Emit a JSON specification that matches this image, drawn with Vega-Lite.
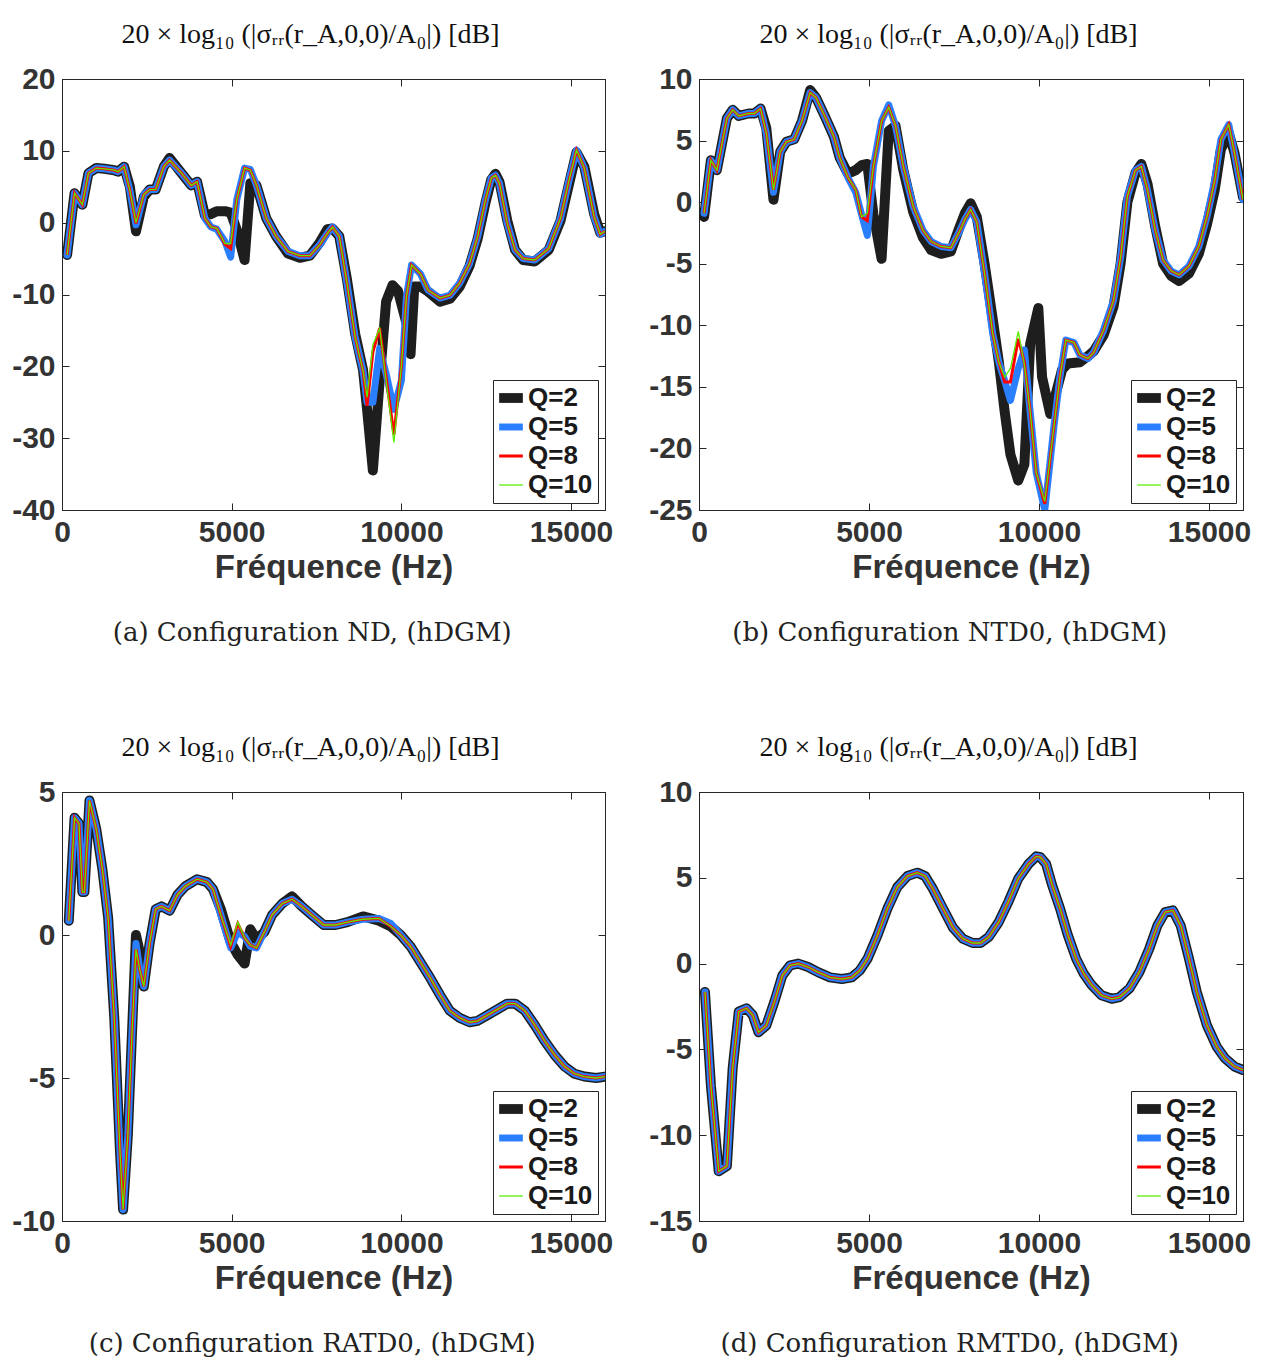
{
"$schema": "https://vega.github.io/schema/vega-lite/v6.json",
"padding": {"left": 11, "top": 20, "right": 5, "bottom": 5},
"datasets": {"d": [
{"p":"a","f":150,"Q=2":-4.5,"Q=5":-4.5,"Q=8":-4.5,"Q=10":-4.5},
{"p":"a","f":370,"Q=2":4.1,"Q=5":4.1,"Q=8":4.1,"Q=10":4.1},
{"p":"a","f":600,"Q=2":2.5,"Q=5":2.5,"Q=8":2.5,"Q=10":2.5},
{"p":"a","f":780,"Q=2":6.9,"Q=5":6.9,"Q=8":6.9,"Q=10":6.9},
{"p":"a","f":1010,"Q=2":7.6,"Q=5":7.6,"Q=8":7.6,"Q=10":7.6},
{"p":"a","f":1250,"Q=2":7.5,"Q=5":7.5,"Q=8":7.5,"Q=10":7.5},
{"p":"a","f":1540,"Q=2":7.3,"Q=5":7.3,"Q=8":7.3,"Q=10":7.3},
{"p":"a","f":1650,"Q=2":7.1,"Q=5":7.1,"Q=8":7.1,"Q=10":7.1},
{"p":"a","f":1830,"Q=2":7.8,"Q=5":7.8,"Q=8":7.8,"Q=10":7.8},
{"p":"a","f":2000,"Q=2":5.0,"Q=5":4.5,"Q=8":4.5,"Q=10":4.5},
{"p":"a","f":2180,"Q=2":-1.2,"Q=5":-0.3,"Q=8":-0.1,"Q=10":0.0},
{"p":"a","f":2410,"Q=2":3.6,"Q=5":3.9,"Q=8":3.9,"Q=10":3.9},
{"p":"a","f":2580,"Q=2":4.6,"Q=5":4.6,"Q=8":4.6,"Q=10":4.6},
{"p":"a","f":2760,"Q=2":4.6,"Q=5":4.6,"Q=8":4.6,"Q=10":4.6},
{"p":"a","f":3000,"Q=2":7.8,"Q=5":7.8,"Q=8":7.8,"Q=10":7.8},
{"p":"a","f":3170,"Q=2":9.0,"Q=5":8.7,"Q=8":8.7,"Q=10":8.7},
{"p":"a","f":3520,"Q=2":6.9,"Q=5":6.9,"Q=8":6.9,"Q=10":6.9},
{"p":"a","f":3810,"Q=2":5.2,"Q=5":5.2,"Q=8":5.2,"Q=10":5.2},
{"p":"a","f":3980,"Q=2":5.7,"Q=5":5.7,"Q=8":5.7,"Q=10":5.7},
{"p":"a","f":4210,"Q=2":1.0,"Q=5":0.6,"Q=8":0.6,"Q=10":0.6},
{"p":"a","f":4390,"Q=2":1.2,"Q=5":-0.6,"Q=8":-0.6,"Q=10":-0.6},
{"p":"a","f":4560,"Q=2":1.6,"Q=5":-0.9,"Q=8":-0.8,"Q=10":-0.8},
{"p":"a","f":4800,"Q=2":1.6,"Q=5":-2.6,"Q=8":-3.0,"Q=10":-2.9},
{"p":"a","f":4970,"Q=2":1.4,"Q=5":-4.8,"Q=8":-3.6,"Q=10":-2.9},
{"p":"a","f":5150,"Q=2":-1.0,"Q=5":3.2,"Q=8":3.2,"Q=10":3.2},
{"p":"a","f":5380,"Q=2":-5.2,"Q=5":7.6,"Q=8":7.6,"Q=10":7.6},
{"p":"a","f":5550,"Q=2":5.5,"Q=5":7.4,"Q=8":7.3,"Q=10":7.3},
{"p":"a","f":5730,"Q=2":5.2,"Q=5":5.2,"Q=8":5.2,"Q=10":5.2},
{"p":"a","f":6020,"Q=2":0.6,"Q=5":0.6,"Q=8":0.6,"Q=10":0.6},
{"p":"a","f":6310,"Q=2":-1.9,"Q=5":-1.9,"Q=8":-1.9,"Q=10":-1.9},
{"p":"a","f":6660,"Q=2":-4.3,"Q=5":-4.0,"Q=8":-4.0,"Q=10":-4.0},
{"p":"a","f":7010,"Q=2":-4.9,"Q=5":-4.6,"Q=8":-4.6,"Q=10":-4.6},
{"p":"a","f":7300,"Q=2":-4.6,"Q=5":-4.6,"Q=8":-4.6,"Q=10":-4.6},
{"p":"a","f":7590,"Q=2":-2.8,"Q=5":-3.1,"Q=8":-3.1,"Q=10":-3.1},
{"p":"a","f":7820,"Q=2":-0.9,"Q=5":-1.5,"Q=8":-1.5,"Q=10":-1.5},
{"p":"a","f":7970,"Q=2":-0.8,"Q=5":-0.6,"Q=8":-0.6,"Q=10":-0.6},
{"p":"a","f":8170,"Q=2":-1.9,"Q=5":-1.9,"Q=8":-1.9,"Q=10":-1.9},
{"p":"a","f":8400,"Q=2":-8.0,"Q=5":-8.5,"Q=8":-8.5,"Q=10":-8.5},
{"p":"a","f":8640,"Q=2":-15.5,"Q=5":-16,"Q=8":-16,"Q=10":-16},
{"p":"a","f":8870,"Q=2":-20.5,"Q=5":-20.6,"Q=8":-20.6,"Q=10":-20.6},
{"p":"a","f":8990,"Q=2":-26,"Q=5":-25,"Q=8":-25.5,"Q=10":-24.3},
{"p":"a","f":9160,"Q=2":-34.5,"Q=5":-25,"Q=8":-18,"Q=10":-17},
{"p":"a","f":9360,"Q=2":-22,"Q=5":-17.5,"Q=8":-14.7,"Q=10":-14.7},
{"p":"a","f":9550,"Q=2":-11,"Q=5":-21,"Q=8":-21.5,"Q=10":-22},
{"p":"a","f":9740,"Q=2":-8.7},
{"p":"a","f":9780,"Q=5":-26,"Q=8":-29.5,"Q=10":-30.6},
{"p":"a","f":9900,"Q=2":-9.5},
{"p":"a","f":10000,"Q=5":-22,"Q=8":-20,"Q=10":-20},
{"p":"a","f":10150,"Q=2":-14,"Q=5":-10.3,"Q=8":-10.3,"Q=10":-10.3},
{"p":"a","f":10270,"Q=2":-18.3},
{"p":"a","f":10300,"Q=5":-5.9,"Q=8":-5.9,"Q=10":-5.9},
{"p":"a","f":10380,"Q=2":-8.9},
{"p":"a","f":10560,"Q=2":-8.9,"Q=5":-7.1,"Q=8":-7.1,"Q=10":-7.1},
{"p":"a","f":10790,"Q=2":-9.6,"Q=5":-9.4,"Q=8":-9.4,"Q=10":-9.4},
{"p":"a","f":11140,"Q=2":-11.0,"Q=5":-10.5,"Q=8":-10.5,"Q=10":-10.5},
{"p":"a","f":11430,"Q=2":-10.6,"Q=5":-10.1,"Q=8":-10.1,"Q=10":-10.1},
{"p":"a","f":11720,"Q=2":-8.9,"Q=5":-8.4,"Q=8":-8.4,"Q=10":-8.4},
{"p":"a","f":12010,"Q=2":-6.0,"Q=5":-5.7,"Q=8":-5.7,"Q=10":-5.7},
{"p":"a","f":12250,"Q=2":-2.2,"Q=5":-1.9,"Q=8":-1.9,"Q=10":-1.9},
{"p":"a","f":12480,"Q=2":2.8,"Q=5":3.2,"Q=8":3.2,"Q=10":3.2},
{"p":"a","f":12650,"Q=2":6.0,"Q=5":6.2,"Q=8":6.2,"Q=10":6.2},
{"p":"a","f":12770,"Q=2":6.8,"Q=5":6.6,"Q=8":6.6,"Q=10":6.6},
{"p":"a","f":12890,"Q=2":5.7,"Q=5":5.5,"Q=8":5.5,"Q=10":5.5},
{"p":"a","f":13120,"Q=2":0.3,"Q=5":-0.1,"Q=8":-0.1,"Q=10":-0.1},
{"p":"a","f":13350,"Q=2":-3.8,"Q=5":-3.8,"Q=8":-3.8,"Q=10":-3.8},
{"p":"a","f":13590,"Q=2":-5.2,"Q=5":-5.0,"Q=8":-5.0,"Q=10":-5.0},
{"p":"a","f":13930,"Q=2":-5.4,"Q=5":-5.2,"Q=8":-5.2,"Q=10":-5.2},
{"p":"a","f":14340,"Q=2":-3.8,"Q=5":-3.6,"Q=8":-3.6,"Q=10":-3.6},
{"p":"a","f":14690,"Q=2":0.3,"Q=5":0.6,"Q=8":0.6,"Q=10":0.6},
{"p":"a","f":14920,"Q=2":5.0,"Q=5":5.5,"Q=8":5.5,"Q=10":5.5},
{"p":"a","f":15160,"Q=2":9.8,"Q=5":10.1,"Q=8":10.1,"Q=10":10.1},
{"p":"a","f":15390,"Q=2":7.8,"Q=5":7.6,"Q=8":7.6,"Q=10":7.6},
{"p":"a","f":15680,"Q=2":1.2,"Q=5":0.8,"Q=8":0.8,"Q=10":0.8},
{"p":"a","f":15860,"Q=2":-1.4,"Q=5":-1.6,"Q=8":-1.6,"Q=10":-1.6},
{"p":"a","f":16000,"Q=2":-1.2,"Q=5":-1.2,"Q=8":-1.2,"Q=10":-1.2},

{"p":"b","f":150,"Q=2":-1.2,"Q=5":-0.9,"Q=8":-0.9,"Q=10":-0.9},
{"p":"b","f":350,"Q=2":3.4,"Q=5":3.4,"Q=8":3.4,"Q=10":3.4},
{"p":"b","f":525,"Q=2":2.6,"Q=5":2.6,"Q=8":2.6,"Q=10":2.6},
{"p":"b","f":820,"Q=2":6.8,"Q=5":6.8,"Q=8":6.8,"Q=10":6.8},
{"p":"b","f":990,"Q=2":7.5,"Q=5":7.5,"Q=8":7.5,"Q=10":7.5},
{"p":"b","f":1170,"Q=2":7.0,"Q=5":7.0,"Q=8":7.0,"Q=10":7.0},
{"p":"b","f":1460,"Q=2":7.2,"Q=5":7.2,"Q=8":7.2,"Q=10":7.2},
{"p":"b","f":1630,"Q=2":7.2,"Q=5":7.2,"Q=8":7.2,"Q=10":7.2},
{"p":"b","f":1810,"Q=2":7.6,"Q=5":7.6,"Q=8":7.6,"Q=10":7.6},
{"p":"b","f":1980,"Q=2":6.0,"Q=5":5.6,"Q=8":5.6,"Q=10":5.6},
{"p":"b","f":2190,"Q=2":0.2,"Q=5":0.8,"Q=8":1.0,"Q=10":1.0},
{"p":"b","f":2390,"Q=2":4.1,"Q=5":4.1,"Q=8":4.1,"Q=10":4.1},
{"p":"b","f":2570,"Q=2":4.9,"Q=5":4.9,"Q=8":4.9,"Q=10":4.9},
{"p":"b","f":2800,"Q=2":5.1,"Q=5":5.1,"Q=8":5.1,"Q=10":5.1},
{"p":"b","f":3030,"Q=2":6.6,"Q=5":6.6,"Q=8":6.6,"Q=10":6.6},
{"p":"b","f":3270,"Q=2":9.1,"Q=5":8.9,"Q=8":8.9,"Q=10":8.9},
{"p":"b","f":3440,"Q=2":8.5,"Q=5":8.5,"Q=8":8.5,"Q=10":8.5},
{"p":"b","f":3730,"Q=2":6.8,"Q=5":6.8,"Q=8":6.8,"Q=10":6.8},
{"p":"b","f":3970,"Q=2":5.3,"Q=5":5.3,"Q=8":5.3,"Q=10":5.3},
{"p":"b","f":4140,"Q=2":3.6,"Q=5":3.6,"Q=8":3.6,"Q=10":3.6},
{"p":"b","f":4380,"Q=2":2.3,"Q=5":2.0,"Q=8":2.0,"Q=10":2.0},
{"p":"b","f":4610,"Q=2":2.6,"Q=5":0.8,"Q=8":1.0,"Q=10":1.0},
{"p":"b","f":4780,"Q=2":3.0,"Q=5":-1.0,"Q=8":-1.2,"Q=10":-1.2},
{"p":"b","f":4950,"Q=2":3.1,"Q=5":-2.7,"Q=8":-1.5,"Q=10":-0.9},
{"p":"b","f":5130,"Q=2":-1.0,"Q=5":2.9,"Q=8":2.9,"Q=10":2.9},
{"p":"b","f":5370,"Q=2":-4.6,"Q=5":6.6,"Q=8":6.6,"Q=10":6.6},
{"p":"b","f":5580,"Q=2":5.8,"Q=5":7.9,"Q=8":7.7,"Q=10":7.7},
{"p":"b","f":5780,"Q=2":6.2,"Q=5":6.2,"Q=8":6.2,"Q=10":6.2},
{"p":"b","f":6010,"Q=2":2.6,"Q=5":2.9,"Q=8":2.9,"Q=10":2.9},
{"p":"b","f":6300,"Q=2":-0.8,"Q=5":-0.35,"Q=8":-0.35,"Q=10":-0.35},
{"p":"b","f":6590,"Q=2":-2.9,"Q=5":-2.3,"Q=8":-2.3,"Q=10":-2.3},
{"p":"b","f":6830,"Q=2":-3.9,"Q=5":-3.2,"Q=8":-3.2,"Q=10":-3.2},
{"p":"b","f":7120,"Q=2":-4.2,"Q=5":-3.6,"Q=8":-3.6,"Q=10":-3.6},
{"p":"b","f":7410,"Q=2":-4.0,"Q=5":-3.7,"Q=8":-3.7,"Q=10":-3.7},
{"p":"b","f":7640,"Q=2":-2.2,"Q=5":-2.5,"Q=8":-2.5,"Q=10":-2.5},
{"p":"b","f":7820,"Q=2":-0.9,"Q=5":-1.4,"Q=8":-1.4,"Q=10":-1.4},
{"p":"b","f":7990,"Q=2":-0.1,"Q=5":-0.6,"Q=8":-0.6,"Q=10":-0.6},
{"p":"b","f":8170,"Q=2":-1.2,"Q=5":-1.6,"Q=8":-1.6,"Q=10":-1.6},
{"p":"b","f":8400,"Q=2":-5.0,"Q=5":-5.8,"Q=8":-5.8,"Q=10":-5.8},
{"p":"b","f":8640,"Q=2":-9.5,"Q=5":-10.7,"Q=8":-10.7,"Q=10":-10.7},
{"p":"b","f":8820,"Q=2":-13,"Q=5":-13,"Q=8":-13,"Q=10":-13},
{"p":"b","f":8990,"Q=2":-17,"Q=5":-14.5,"Q=8":-14.6,"Q=10":-14.2},
{"p":"b","f":9160,"Q=2":-20.5,"Q=5":-16.1,"Q=8":-14.6,"Q=10":-13.5},
{"p":"b","f":9390,"Q=2":-22.6,"Q=5":-13.5,"Q=8":-11.1,"Q=10":-10.5},
{"p":"b","f":9570,"Q=2":-21.3,"Q=5":-12.0,"Q=8":-13.0,"Q=10":-13.2},
{"p":"b","f":9740,"Q=2":-11.5,"Q=5":-17,"Q=8":-17,"Q=10":-17},
{"p":"b","f":9920,"Q=5":-22,"Q=8":-22,"Q=10":-22},
{"p":"b","f":9980,"Q=2":-8.6},
{"p":"b","f":10090,"Q=2":-14.2},
{"p":"b","f":10170,"Q=5":-25,"Q=8":-24.5,"Q=10":-24.3},
{"p":"b","f":10330,"Q=2":-17.2},
{"p":"b","f":10440,"Q=5":-18.2,"Q=8":-18.2,"Q=10":-18.2},
{"p":"b","f":10500,"Q=2":-15.5},
{"p":"b","f":10620,"Q=5":-14.1,"Q=8":-14.1,"Q=10":-14.1},
{"p":"b","f":10680,"Q=2":-13.6},
{"p":"b","f":10790,"Q=5":-11.2,"Q=8":-11.2,"Q=10":-11.2},
{"p":"b","f":10850,"Q=2":-13.1},
{"p":"b","f":11030,"Q=5":-11.4,"Q=8":-11.4,"Q=10":-11.4},
{"p":"b","f":11200,"Q=2":-13.0,"Q=5":-12.4,"Q=8":-12.4,"Q=10":-12.4},
{"p":"b","f":11440,"Q=2":-12.5,"Q=5":-12.7,"Q=8":-12.7,"Q=10":-12.7},
{"p":"b","f":11610,"Q=2":-12.1,"Q=5":-12.2,"Q=8":-12.2,"Q=10":-12.2},
{"p":"b","f":11900,"Q=2":-10.8,"Q=5":-10.4,"Q=8":-10.4,"Q=10":-10.4},
{"p":"b","f":12190,"Q=2":-8.5,"Q=5":-8.0,"Q=8":-8.0,"Q=10":-8.0},
{"p":"b","f":12400,"Q=2":-5.0,"Q=5":-4.5,"Q=8":-4.5,"Q=10":-4.5},
{"p":"b","f":12600,"Q=2":0.0,"Q=5":0.5,"Q=8":0.5,"Q=10":0.5},
{"p":"b","f":12840,"Q=2":2.4,"Q=5":2.6,"Q=8":2.6,"Q=10":2.6},
{"p":"b","f":13010,"Q=2":3.1,"Q=5":2.9,"Q=8":2.9,"Q=10":2.9},
{"p":"b","f":13190,"Q=2":1.5,"Q=5":1.0,"Q=8":1.0,"Q=10":1.0},
{"p":"b","f":13420,"Q=2":-2.0,"Q=5":-2.3,"Q=8":-2.3,"Q=10":-2.3},
{"p":"b","f":13650,"Q=2":-5.0,"Q=5":-4.7,"Q=8":-4.7,"Q=10":-4.7},
{"p":"b","f":13890,"Q=2":-6.0,"Q=5":-5.6,"Q=8":-5.6,"Q=10":-5.6},
{"p":"b","f":14120,"Q=2":-6.4,"Q=5":-5.9,"Q=8":-5.9,"Q=10":-5.9},
{"p":"b","f":14410,"Q=2":-5.8,"Q=5":-5.2,"Q=8":-5.2,"Q=10":-5.2},
{"p":"b","f":14700,"Q=2":-4.2,"Q=5":-3.6,"Q=8":-3.6,"Q=10":-3.6},
{"p":"b","f":14940,"Q=2":-1.8,"Q=5":-1.2,"Q=8":-1.2,"Q=10":-1.2},
{"p":"b","f":15170,"Q=2":1.0,"Q=5":1.8,"Q=8":1.8,"Q=10":1.8},
{"p":"b","f":15350,"Q=2":4.3,"Q=5":5.1,"Q=8":5.1,"Q=10":5.1},
{"p":"b","f":15580,"Q=2":5.6,"Q=5":6.3,"Q=8":6.3,"Q=10":6.3},
{"p":"b","f":15750,"Q=2":4.0,"Q=5":4.0,"Q=8":4.0,"Q=10":4.0},
{"p":"b","f":16000,"Q=2":0.4,"Q=5":0.2,"Q=8":0.2,"Q=10":0.2},

{"p":"c","f":200,"Q=2":0.5,"Q=5":0.5,"Q=8":0.5,"Q=10":0.5},
{"p":"c","f":370,"Q=2":4.1,"Q=5":4.1,"Q=8":4.1,"Q=10":4.1},
{"p":"c","f":500,"Q=2":3.9,"Q=5":3.9,"Q=8":3.9,"Q=10":3.9},
{"p":"c","f":600,"Q=2":1.5,"Q=5":1.5,"Q=8":1.5,"Q=10":1.5},
{"p":"c","f":660,"Q=2":1.5,"Q=5":1.5,"Q=8":1.5,"Q=10":1.5},
{"p":"c","f":810,"Q=2":4.7,"Q=5":4.7,"Q=8":4.7,"Q=10":4.7},
{"p":"c","f":1010,"Q=2":3.7,"Q=5":3.7,"Q=8":3.7,"Q=10":3.7},
{"p":"c","f":1190,"Q=2":2.3,"Q=5":2.3,"Q=8":2.3,"Q=10":2.3},
{"p":"c","f":1360,"Q=2":0.6,"Q=5":0.6,"Q=8":0.6,"Q=10":0.6},
{"p":"c","f":1540,"Q=2":-2.9,"Q=5":-2.9,"Q=8":-2.9,"Q=10":-2.9},
{"p":"c","f":1710,"Q=2":-7.6,"Q=5":-7.6,"Q=8":-7.6,"Q=10":-7.6},
{"p":"c","f":1800,"Q=2":-9.6,"Q=5":-9.6,"Q=8":-9.6,"Q=10":-9.6},
{"p":"c","f":1940,"Q=2":-7.0,"Q=5":-7.0,"Q=8":-7.0,"Q=10":-7.0},
{"p":"c","f":2060,"Q=2":-3.5,"Q=5":-3.5,"Q=8":-3.5,"Q=10":-3.5},
{"p":"c","f":2180,"Q=2":0.0,"Q=5":-0.3,"Q=8":-0.5,"Q=10":-0.5},
{"p":"c","f":2290,"Q=2":-0.6,"Q=5":-1.2,"Q=8":-1.2,"Q=10":-1.2},
{"p":"c","f":2410,"Q=2":-1.8,"Q=5":-1.8,"Q=8":-1.8,"Q=10":-1.8},
{"p":"c","f":2580,"Q=2":-0.3,"Q=5":-0.3,"Q=8":-0.3,"Q=10":-0.3},
{"p":"c","f":2760,"Q=2":0.9,"Q=5":0.9,"Q=8":0.9,"Q=10":0.9},
{"p":"c","f":2930,"Q=2":1.0,"Q=5":1.0,"Q=8":1.0,"Q=10":1.0},
{"p":"c","f":3170,"Q=2":0.85,"Q=5":0.85,"Q=8":0.85,"Q=10":0.85},
{"p":"c","f":3400,"Q=2":1.4,"Q=5":1.4,"Q=8":1.4,"Q=10":1.4},
{"p":"c","f":3630,"Q=2":1.7,"Q=5":1.7,"Q=8":1.7,"Q=10":1.7},
{"p":"c","f":3980,"Q=2":1.95,"Q=5":1.95,"Q=8":1.95,"Q=10":1.95},
{"p":"c","f":4270,"Q=2":1.85,"Q=5":1.85,"Q=8":1.85,"Q=10":1.85},
{"p":"c","f":4450,"Q=2":1.6,"Q=5":1.6,"Q=8":1.6,"Q=10":1.6},
{"p":"c","f":4680,"Q=2":0.9,"Q=5":0.7,"Q=8":0.7,"Q=10":0.7},
{"p":"c","f":4970,"Q=2":-0.25,"Q=5":-0.45,"Q=8":-0.4,"Q=10":-0.35},
{"p":"c","f":5180,"Q=2":-0.7,"Q=5":0.1,"Q=8":0.4,"Q=10":0.45},
{"p":"c","f":5380,"Q=2":-1.0,"Q=5":-0.05,"Q=8":-0.1,"Q=10":-0.1},
{"p":"c","f":5550,"Q=2":0.2,"Q=5":-0.4,"Q=8":-0.35,"Q=10":-0.35},
{"p":"c","f":5730,"Q=2":-0.15,"Q=5":-0.45,"Q=8":-0.45,"Q=10":-0.45},
{"p":"c","f":5960,"Q=2":0.1,"Q=5":0.1,"Q=8":0.1,"Q=10":0.1},
{"p":"c","f":6190,"Q=2":0.7,"Q=5":0.7,"Q=8":0.7,"Q=10":0.7},
{"p":"c","f":6490,"Q=2":1.1,"Q=5":1.1,"Q=8":1.1,"Q=10":1.1},
{"p":"c","f":6780,"Q=2":1.35,"Q=5":1.25,"Q=8":1.25,"Q=10":1.25},
{"p":"c","f":7070,"Q=2":1.0,"Q=5":1.0,"Q=8":1.0,"Q=10":1.0},
{"p":"c","f":7360,"Q=2":0.7,"Q=5":0.7,"Q=8":0.7,"Q=10":0.7},
{"p":"c","f":7710,"Q=2":0.35,"Q=5":0.35,"Q=8":0.35,"Q=10":0.35},
{"p":"c","f":8060,"Q=2":0.35,"Q=5":0.35,"Q=8":0.35,"Q=10":0.35},
{"p":"c","f":8410,"Q=2":0.45,"Q=5":0.45,"Q=8":0.45,"Q=10":0.45},
{"p":"c","f":8870,"Q=2":0.65,"Q=5":0.55,"Q=8":0.55,"Q=10":0.55},
{"p":"c","f":9340,"Q=2":0.5,"Q=5":0.58,"Q=8":0.58,"Q=10":0.58},
{"p":"c","f":9690,"Q=2":0.3,"Q=5":0.4,"Q=8":0.3,"Q=10":0.3},
{"p":"c","f":9980,"Q=2":0.0,"Q=5":0.0,"Q=8":0.0,"Q=10":0.0},
{"p":"c","f":10270,"Q=2":-0.4,"Q=5":-0.4,"Q=8":-0.4,"Q=10":-0.4},
{"p":"c","f":10560,"Q=2":-0.95,"Q=5":-0.95,"Q=8":-0.95,"Q=10":-0.95},
{"p":"c","f":10850,"Q=2":-1.5,"Q=5":-1.5,"Q=8":-1.5,"Q=10":-1.5},
{"p":"c","f":11140,"Q=2":-2.1,"Q=5":-2.1,"Q=8":-2.1,"Q=10":-2.1},
{"p":"c","f":11430,"Q=2":-2.65,"Q=5":-2.65,"Q=8":-2.65,"Q=10":-2.65},
{"p":"c","f":11720,"Q=2":-2.9,"Q=5":-2.9,"Q=8":-2.9,"Q=10":-2.9},
{"p":"c","f":12010,"Q=2":-3.05,"Q=5":-3.05,"Q=8":-3.05,"Q=10":-3.05},
{"p":"c","f":12250,"Q=2":-3.0,"Q=5":-3.0,"Q=8":-3.0,"Q=10":-3.0},
{"p":"c","f":12540,"Q=2":-2.8,"Q=5":-2.8,"Q=8":-2.8,"Q=10":-2.8},
{"p":"c","f":12830,"Q=2":-2.6,"Q=5":-2.6,"Q=8":-2.6,"Q=10":-2.6},
{"p":"c","f":13120,"Q=2":-2.4,"Q=5":-2.4,"Q=8":-2.4,"Q=10":-2.4},
{"p":"c","f":13350,"Q=2":-2.4,"Q=5":-2.4,"Q=8":-2.4,"Q=10":-2.4},
{"p":"c","f":13640,"Q=2":-2.65,"Q=5":-2.65,"Q=8":-2.65,"Q=10":-2.65},
{"p":"c","f":13930,"Q=2":-3.15,"Q=5":-3.15,"Q=8":-3.15,"Q=10":-3.15},
{"p":"c","f":14220,"Q=2":-3.7,"Q=5":-3.7,"Q=8":-3.7,"Q=10":-3.7},
{"p":"c","f":14520,"Q=2":-4.2,"Q=5":-4.2,"Q=8":-4.2,"Q=10":-4.2},
{"p":"c","f":14810,"Q=2":-4.6,"Q=5":-4.6,"Q=8":-4.6,"Q=10":-4.6},
{"p":"c","f":15100,"Q=2":-4.85,"Q=5":-4.85,"Q=8":-4.85,"Q=10":-4.85},
{"p":"c","f":15390,"Q=2":-4.95,"Q=5":-4.95,"Q=8":-4.95,"Q=10":-4.95},
{"p":"c","f":15740,"Q=2":-5.0,"Q=5":-5.0,"Q=8":-5.0,"Q=10":-5.0},
{"p":"c","f":16000,"Q=2":-4.95,"Q=5":-4.95,"Q=8":-4.95,"Q=10":-4.95},

{"p":"d","f":175,"Q=2":-1.65,"Q=5":-1.65,"Q=8":-1.65,"Q=10":-1.65},
{"p":"d","f":350,"Q=2":-7.1,"Q=5":-7.1,"Q=8":-7.1,"Q=10":-7.1},
{"p":"d","f":580,"Q=2":-12.1,"Q=5":-12.1,"Q=8":-12.1,"Q=10":-12.1},
{"p":"d","f":820,"Q=2":-11.8,"Q=5":-11.8,"Q=8":-11.8,"Q=10":-11.8},
{"p":"d","f":990,"Q=2":-6.1,"Q=5":-6.1,"Q=8":-6.1,"Q=10":-6.1},
{"p":"d","f":1170,"Q=2":-2.8,"Q=5":-2.8,"Q=8":-2.8,"Q=10":-2.8},
{"p":"d","f":1400,"Q=2":-2.6,"Q=5":-2.6,"Q=8":-2.6,"Q=10":-2.6},
{"p":"d","f":1580,"Q=2":-3.0,"Q=5":-3.0,"Q=8":-3.0,"Q=10":-3.0},
{"p":"d","f":1750,"Q=2":-4.0,"Q=5":-4.0,"Q=8":-4.0,"Q=10":-4.0},
{"p":"d","f":1980,"Q=2":-3.6,"Q=5":-3.6,"Q=8":-3.6,"Q=10":-3.6},
{"p":"d","f":2220,"Q=2":-2.2,"Q=5":-2.2,"Q=8":-2.2,"Q=10":-2.2},
{"p":"d","f":2450,"Q=2":-0.7,"Q=5":-0.7,"Q=8":-0.7,"Q=10":-0.7},
{"p":"d","f":2680,"Q=2":-0.1,"Q=5":-0.1,"Q=8":-0.1,"Q=10":-0.1},
{"p":"d","f":2920,"Q=2":0.0,"Q=5":0.0,"Q=8":0.0,"Q=10":0.0},
{"p":"d","f":3210,"Q=2":-0.2,"Q=5":-0.2,"Q=8":-0.2,"Q=10":-0.2},
{"p":"d","f":3500,"Q=2":-0.5,"Q=5":-0.5,"Q=8":-0.5,"Q=10":-0.5},
{"p":"d","f":3850,"Q=2":-0.8,"Q=5":-0.8,"Q=8":-0.8,"Q=10":-0.8},
{"p":"d","f":4200,"Q=2":-0.9,"Q=5":-0.9,"Q=8":-0.9,"Q=10":-0.9},
{"p":"d","f":4490,"Q=2":-0.8,"Q=5":-0.8,"Q=8":-0.8,"Q=10":-0.8},
{"p":"d","f":4730,"Q=2":-0.4,"Q=5":-0.4,"Q=8":-0.4,"Q=10":-0.4},
{"p":"d","f":4960,"Q=2":0.3,"Q=5":0.3,"Q=8":0.3,"Q=10":0.3},
{"p":"d","f":5250,"Q=2":1.65,"Q=5":1.65,"Q=8":1.65,"Q=10":1.65},
{"p":"d","f":5540,"Q=2":3.2,"Q=5":3.2,"Q=8":3.2,"Q=10":3.2},
{"p":"d","f":5830,"Q=2":4.45,"Q=5":4.45,"Q=8":4.45,"Q=10":4.45},
{"p":"d","f":6130,"Q=2":5.1,"Q=5":5.1,"Q=8":5.1,"Q=10":5.1},
{"p":"d","f":6420,"Q=2":5.3,"Q=5":5.3,"Q=8":5.3,"Q=10":5.3},
{"p":"d","f":6650,"Q=2":5.1,"Q=5":5.1,"Q=8":5.1,"Q=10":5.1},
{"p":"d","f":6880,"Q=2":4.35,"Q=5":4.35,"Q=8":4.35,"Q=10":4.35},
{"p":"d","f":7180,"Q=2":3.2,"Q=5":3.2,"Q=8":3.2,"Q=10":3.2},
{"p":"d","f":7470,"Q=2":2.1,"Q=5":2.1,"Q=8":2.1,"Q=10":2.1},
{"p":"d","f":7760,"Q=2":1.45,"Q=5":1.45,"Q=8":1.45,"Q=10":1.45},
{"p":"d","f":8050,"Q=2":1.2,"Q=5":1.2,"Q=8":1.2,"Q=10":1.2},
{"p":"d","f":8280,"Q=2":1.2,"Q=5":1.2,"Q=8":1.2,"Q=10":1.2},
{"p":"d","f":8520,"Q=2":1.55,"Q=5":1.55,"Q=8":1.55,"Q=10":1.55},
{"p":"d","f":8810,"Q=2":2.4,"Q=5":2.4,"Q=8":2.4,"Q=10":2.4},
{"p":"d","f":9100,"Q=2":3.6,"Q=5":3.6,"Q=8":3.6,"Q=10":3.6},
{"p":"d","f":9390,"Q=2":4.95,"Q=5":4.95,"Q=8":4.95,"Q=10":4.95},
{"p":"d","f":9690,"Q=2":5.8,"Q=5":5.8,"Q=8":5.8,"Q=10":5.8},
{"p":"d","f":9920,"Q=2":6.25,"Q=5":6.25,"Q=8":6.25,"Q=10":6.25},
{"p":"d","f":10040,"Q=2":6.2,"Q=5":6.2,"Q=8":6.2,"Q=10":6.2},
{"p":"d","f":10210,"Q=2":5.8,"Q=5":5.8,"Q=8":5.8,"Q=10":5.8},
{"p":"d","f":10390,"Q=2":4.55,"Q=5":4.55,"Q=8":4.55,"Q=10":4.55},
{"p":"d","f":10620,"Q=2":3.2,"Q=5":3.2,"Q=8":3.2,"Q=10":3.2},
{"p":"d","f":10850,"Q=2":1.65,"Q=5":1.65,"Q=8":1.65,"Q=10":1.65},
{"p":"d","f":11090,"Q=2":0.3,"Q=5":0.3,"Q=8":0.3,"Q=10":0.3},
{"p":"d","f":11320,"Q=2":-0.6,"Q=5":-0.6,"Q=8":-0.6,"Q=10":-0.6},
{"p":"d","f":11550,"Q=2":-1.25,"Q=5":-1.25,"Q=8":-1.25,"Q=10":-1.25},
{"p":"d","f":11840,"Q=2":-1.85,"Q=5":-1.85,"Q=8":-1.85,"Q=10":-1.85},
{"p":"d","f":12140,"Q=2":-2.05,"Q=5":-2.05,"Q=8":-2.05,"Q=10":-2.05},
{"p":"d","f":12370,"Q=2":-1.95,"Q=5":-1.95,"Q=8":-1.95,"Q=10":-1.95},
{"p":"d","f":12660,"Q=2":-1.45,"Q=5":-1.45,"Q=8":-1.45,"Q=10":-1.45},
{"p":"d","f":12950,"Q=2":-0.5,"Q=5":-0.5,"Q=8":-0.5,"Q=10":-0.5},
{"p":"d","f":13240,"Q=2":0.85,"Q=5":0.85,"Q=8":0.85,"Q=10":0.85},
{"p":"d","f":13480,"Q=2":2.2,"Q=5":2.2,"Q=8":2.2,"Q=10":2.2},
{"p":"d","f":13710,"Q=2":3.0,"Q=5":3.0,"Q=8":3.0,"Q=10":3.0},
{"p":"d","f":13940,"Q=2":3.1,"Q=5":3.1,"Q=8":3.1,"Q=10":3.1},
{"p":"d","f":14170,"Q=2":2.2,"Q=5":2.2,"Q=8":2.2,"Q=10":2.2},
{"p":"d","f":14410,"Q=2":0.3,"Q=5":0.3,"Q=8":0.3,"Q=10":0.3},
{"p":"d","f":14640,"Q=2":-1.65,"Q=5":-1.65,"Q=8":-1.65,"Q=10":-1.65},
{"p":"d","f":14940,"Q=2":-3.6,"Q=5":-3.6,"Q=8":-3.6,"Q=10":-3.6},
{"p":"d","f":15230,"Q=2":-4.85,"Q=5":-4.85,"Q=8":-4.85,"Q=10":-4.85},
{"p":"d","f":15460,"Q=2":-5.5,"Q=5":-5.5,"Q=8":-5.5,"Q=10":-5.5},
{"p":"d","f":15750,"Q=2":-6.0,"Q=5":-6.0,"Q=8":-6.0,"Q=10":-6.0},
{"p":"d","f":16000,"Q=2":-6.2,"Q=5":-6.2,"Q=8":-6.2,"Q=10":-6.2}
]},
"vconcat": [
{"hconcat": [
{"width": 543, "height": 431, "data": {"name": "d"},
 "title": {"text": "(a) Configuration ND, (hDGM)", "orient": "bottom", "frame": "bounds", "anchor": "middle", "font": "DejaVu Serif", "fontSize": 26, "fontWeight": "normal", "color": "#222222", "offset": 36},
 "transform": [{"filter": "datum.p == 'a'"}, {"fold": ["Q=2","Q=5","Q=8","Q=10"], "as": ["k","v"]}, {"filter": "isValid(datum.v)"}],
 "encoding": {
  "color": {"field": "k", "type": "nominal", "scale": {"domain": ["Q=2","Q=5","Q=8","Q=10"], "range": ["#1e1e1e","#2a7fff","#ff0000","#55ee00"]}, "legend": {"title": null, "encode": {"symbols": {"update": {"shape": {"signal": "datum.value == 'Q=2' ? 'M-1.5,-0.62L1.5,-0.62L1.5,0.62L-1.5,0.62Z' : datum.value == 'Q=5' ? 'M-1.5,-0.44L1.5,-0.44L1.5,0.44L-1.5,0.44Z' : datum.value == 'Q=8' ? 'M-1.5,-0.19L1.5,-0.19L1.5,0.19L-1.5,0.19Z' : 'M-1.5,-0.08L1.5,-0.08L1.5,0.08L-1.5,0.08Z'"}, "fill": {"signal": "datum.value == 'Q=2' ? '#1e1e1e' : datum.value == 'Q=5' ? '#2a7fff' : datum.value == 'Q=8' ? '#ff0000' : '#55ee00'"}, "fillOpacity": {"value": 1}, "strokeWidth": {"value": 0}}}}}}
 },
 "layer": [
  {"transform": [{"filter": "datum.k == 'Q=2'"}], "mark": {"type": "line", "clip": true, "strokeJoin": "round", "strokeCap": "round", "strokeWidth": 10},
   "encoding": {"x": {"field": "f", "type": "quantitative", "scale": {"domain": [0,16000], "nice": false}, "axis": {"orient": "bottom", "values": [0,5000,10000,15000], "format": "d", "title": "Fréquence (Hz)"}},
                "y": {"field": "v", "type": "quantitative", "scale": {"domain": [-40,20], "nice": false, "zero": false}, "axis": {"orient": "left", "values": [20,10,0,-10,-20,-30,-40], "labelExpr": "toString(datum.value)", "title": null}}}},
  {"transform": [{"filter": "datum.k == 'Q=5'"}], "mark": {"type": "line", "clip": true, "strokeJoin": "round", "strokeCap": "round", "strokeWidth": 7},
   "encoding": {"x": {"field": "f", "type": "quantitative", "scale": {"domain": [0,16000], "nice": false}, "axis": {"orient": "top", "values": [0,5000,10000,15000], "labels": false, "title": "20 × log₁₀ (|σᵣᵣ(r_A,0,0)/A₀|) [dB]", "titleFont": "Liberation Serif", "titleFontSize": 28, "titleFontWeight": "normal", "titleColor": "#111111", "titlePadding": 30, "titleX": 248, "titleAlign": "center"}},
                "y": {"field": "v", "type": "quantitative", "scale": {"domain": [-40,20], "nice": false, "zero": false}, "axis": {"orient": "right", "values": [20,10,0,-10,-20,-30,-40], "labels": false, "title": null}}}},
  {"transform": [{"filter": "datum.k == 'Q=8'"}], "mark": {"type": "line", "clip": true, "strokeWidth": 3},
   "encoding": {"x": {"field": "f", "type": "quantitative", "scale": {"domain": [0,16000], "nice": false}, "axis": null},
                "y": {"field": "v", "type": "quantitative", "scale": {"domain": [-40,20], "nice": false, "zero": false}, "axis": null}}},
  {"transform": [{"filter": "datum.k == 'Q=10'"}], "mark": {"type": "line", "clip": true, "strokeWidth": 1.3},
   "encoding": {"x": {"field": "f", "type": "quantitative", "scale": {"domain": [0,16000], "nice": false}, "axis": null},
                "y": {"field": "v", "type": "quantitative", "scale": {"domain": [-40,20], "nice": false, "zero": false}, "axis": null}}}
 ],
 "resolve": {"axis": {"x": "independent", "y": "independent"}}
},
{"width": 544, "height": 431, "data": {"name": "d"},
 "title": {"text": "(b) Configuration NTD0, (hDGM)", "orient": "bottom", "frame": "bounds", "anchor": "middle", "font": "DejaVu Serif", "fontSize": 26, "fontWeight": "normal", "color": "#222222", "offset": 36},
 "transform": [{"filter": "datum.p == 'b'"}, {"fold": ["Q=2","Q=5","Q=8","Q=10"], "as": ["k","v"]}, {"filter": "isValid(datum.v)"}],
 "encoding": {
  "color": {"field": "k", "type": "nominal", "scale": {"domain": ["Q=2","Q=5","Q=8","Q=10"], "range": ["#1e1e1e","#2a7fff","#ff0000","#55ee00"]}, "legend": {"title": null, "encode": {"symbols": {"update": {"shape": {"signal": "datum.value == 'Q=2' ? 'M-1.5,-0.62L1.5,-0.62L1.5,0.62L-1.5,0.62Z' : datum.value == 'Q=5' ? 'M-1.5,-0.44L1.5,-0.44L1.5,0.44L-1.5,0.44Z' : datum.value == 'Q=8' ? 'M-1.5,-0.19L1.5,-0.19L1.5,0.19L-1.5,0.19Z' : 'M-1.5,-0.08L1.5,-0.08L1.5,0.08L-1.5,0.08Z'"}, "fill": {"signal": "datum.value == 'Q=2' ? '#1e1e1e' : datum.value == 'Q=5' ? '#2a7fff' : datum.value == 'Q=8' ? '#ff0000' : '#55ee00'"}, "fillOpacity": {"value": 1}, "strokeWidth": {"value": 0}}}}}}
 },
 "layer": [
  {"transform": [{"filter": "datum.k == 'Q=2'"}], "mark": {"type": "line", "clip": true, "strokeJoin": "round", "strokeCap": "round", "strokeWidth": 10},
   "encoding": {"x": {"field": "f", "type": "quantitative", "scale": {"domain": [0,16000], "nice": false}, "axis": {"orient": "bottom", "values": [0,5000,10000,15000], "format": "d", "title": "Fréquence (Hz)"}},
                "y": {"field": "v", "type": "quantitative", "scale": {"domain": [-25,10], "nice": false, "zero": false}, "axis": {"orient": "left", "values": [10,5,0,-5,-10,-15,-20,-25], "labelExpr": "toString(datum.value)", "title": null}}}},
  {"transform": [{"filter": "datum.k == 'Q=5'"}], "mark": {"type": "line", "clip": true, "strokeJoin": "round", "strokeCap": "round", "strokeWidth": 7},
   "encoding": {"x": {"field": "f", "type": "quantitative", "scale": {"domain": [0,16000], "nice": false}, "axis": {"orient": "top", "values": [0,5000,10000,15000], "labels": false, "title": "20 × log₁₀ (|σᵣᵣ(r_A,0,0)/A₀|) [dB]", "titleFont": "Liberation Serif", "titleFontSize": 28, "titleFontWeight": "normal", "titleColor": "#111111", "titlePadding": 30, "titleX": 249, "titleAlign": "center"}},
                "y": {"field": "v", "type": "quantitative", "scale": {"domain": [-25,10], "nice": false, "zero": false}, "axis": {"orient": "right", "values": [10,5,0,-5,-10,-15,-20,-25], "labels": false, "title": null}}}},
  {"transform": [{"filter": "datum.k == 'Q=8'"}], "mark": {"type": "line", "clip": true, "strokeWidth": 3},
   "encoding": {"x": {"field": "f", "type": "quantitative", "scale": {"domain": [0,16000], "nice": false}, "axis": null},
                "y": {"field": "v", "type": "quantitative", "scale": {"domain": [-25,10], "nice": false, "zero": false}, "axis": null}}},
  {"transform": [{"filter": "datum.k == 'Q=10'"}], "mark": {"type": "line", "clip": true, "strokeWidth": 1.3},
   "encoding": {"x": {"field": "f", "type": "quantitative", "scale": {"domain": [0,16000], "nice": false}, "axis": null},
                "y": {"field": "v", "type": "quantitative", "scale": {"domain": [-25,10], "nice": false, "zero": false}, "axis": null}}}
 ],
 "resolve": {"axis": {"x": "independent", "y": "independent"}}
}
], "spacing": 34,
 "resolve": {"scale": {"color": "independent"}, "legend": {"color": "independent"}}},
{"hconcat": [
{"width": 543, "height": 429, "data": {"name": "d"},
 "title": {"text": "(c) Configuration RATD0, (hDGM)", "orient": "bottom", "frame": "bounds", "anchor": "middle", "font": "DejaVu Serif", "fontSize": 26, "fontWeight": "normal", "color": "#222222", "offset": 36},
 "transform": [{"filter": "datum.p == 'c'"}, {"fold": ["Q=2","Q=5","Q=8","Q=10"], "as": ["k","v"]}, {"filter": "isValid(datum.v)"}],
 "encoding": {
  "color": {"field": "k", "type": "nominal", "scale": {"domain": ["Q=2","Q=5","Q=8","Q=10"], "range": ["#1e1e1e","#2a7fff","#ff0000","#55ee00"]}, "legend": {"title": null, "encode": {"symbols": {"update": {"shape": {"signal": "datum.value == 'Q=2' ? 'M-1.5,-0.62L1.5,-0.62L1.5,0.62L-1.5,0.62Z' : datum.value == 'Q=5' ? 'M-1.5,-0.44L1.5,-0.44L1.5,0.44L-1.5,0.44Z' : datum.value == 'Q=8' ? 'M-1.5,-0.19L1.5,-0.19L1.5,0.19L-1.5,0.19Z' : 'M-1.5,-0.08L1.5,-0.08L1.5,0.08L-1.5,0.08Z'"}, "fill": {"signal": "datum.value == 'Q=2' ? '#1e1e1e' : datum.value == 'Q=5' ? '#2a7fff' : datum.value == 'Q=8' ? '#ff0000' : '#55ee00'"}, "fillOpacity": {"value": 1}, "strokeWidth": {"value": 0}}}}}}
 },
 "layer": [
  {"transform": [{"filter": "datum.k == 'Q=2'"}], "mark": {"type": "line", "clip": true, "strokeJoin": "round", "strokeCap": "round", "strokeWidth": 10},
   "encoding": {"x": {"field": "f", "type": "quantitative", "scale": {"domain": [0,16000], "nice": false}, "axis": {"orient": "bottom", "values": [0,5000,10000,15000], "format": "d", "title": "Fréquence (Hz)"}},
                "y": {"field": "v", "type": "quantitative", "scale": {"domain": [-10,5], "nice": false, "zero": false}, "axis": {"orient": "left", "values": [5,0,-5,-10], "labelExpr": "toString(datum.value)", "title": null}}}},
  {"transform": [{"filter": "datum.k == 'Q=5'"}], "mark": {"type": "line", "clip": true, "strokeJoin": "round", "strokeCap": "round", "strokeWidth": 7},
   "encoding": {"x": {"field": "f", "type": "quantitative", "scale": {"domain": [0,16000], "nice": false}, "axis": {"orient": "top", "values": [0,5000,10000,15000], "labels": false, "title": "20 × log₁₀ (|σᵣᵣ(r_A,0,0)/A₀|) [dB]", "titleFont": "Liberation Serif", "titleFontSize": 28, "titleFontWeight": "normal", "titleColor": "#111111", "titlePadding": 30, "titleX": 248, "titleAlign": "center"}},
                "y": {"field": "v", "type": "quantitative", "scale": {"domain": [-10,5], "nice": false, "zero": false}, "axis": {"orient": "right", "values": [5,0,-5,-10], "labels": false, "title": null}}}},
  {"transform": [{"filter": "datum.k == 'Q=8'"}], "mark": {"type": "line", "clip": true, "strokeWidth": 3},
   "encoding": {"x": {"field": "f", "type": "quantitative", "scale": {"domain": [0,16000], "nice": false}, "axis": null},
                "y": {"field": "v", "type": "quantitative", "scale": {"domain": [-10,5], "nice": false, "zero": false}, "axis": null}}},
  {"transform": [{"filter": "datum.k == 'Q=10'"}], "mark": {"type": "line", "clip": true, "strokeWidth": 1.3},
   "encoding": {"x": {"field": "f", "type": "quantitative", "scale": {"domain": [0,16000], "nice": false}, "axis": null},
                "y": {"field": "v", "type": "quantitative", "scale": {"domain": [-10,5], "nice": false, "zero": false}, "axis": null}}}
 ],
 "resolve": {"axis": {"x": "independent", "y": "independent"}}
},
{"width": 544, "height": 429, "data": {"name": "d"},
 "title": {"text": "(d) Configuration RMTD0, (hDGM)", "orient": "bottom", "frame": "bounds", "anchor": "middle", "font": "DejaVu Serif", "fontSize": 26, "fontWeight": "normal", "color": "#222222", "offset": 36},
 "transform": [{"filter": "datum.p == 'd'"}, {"fold": ["Q=2","Q=5","Q=8","Q=10"], "as": ["k","v"]}, {"filter": "isValid(datum.v)"}],
 "encoding": {
  "color": {"field": "k", "type": "nominal", "scale": {"domain": ["Q=2","Q=5","Q=8","Q=10"], "range": ["#1e1e1e","#2a7fff","#ff0000","#55ee00"]}, "legend": {"title": null, "encode": {"symbols": {"update": {"shape": {"signal": "datum.value == 'Q=2' ? 'M-1.5,-0.62L1.5,-0.62L1.5,0.62L-1.5,0.62Z' : datum.value == 'Q=5' ? 'M-1.5,-0.44L1.5,-0.44L1.5,0.44L-1.5,0.44Z' : datum.value == 'Q=8' ? 'M-1.5,-0.19L1.5,-0.19L1.5,0.19L-1.5,0.19Z' : 'M-1.5,-0.08L1.5,-0.08L1.5,0.08L-1.5,0.08Z'"}, "fill": {"signal": "datum.value == 'Q=2' ? '#1e1e1e' : datum.value == 'Q=5' ? '#2a7fff' : datum.value == 'Q=8' ? '#ff0000' : '#55ee00'"}, "fillOpacity": {"value": 1}, "strokeWidth": {"value": 0}}}}}}
 },
 "layer": [
  {"transform": [{"filter": "datum.k == 'Q=2'"}], "mark": {"type": "line", "clip": true, "strokeJoin": "round", "strokeCap": "round", "strokeWidth": 10},
   "encoding": {"x": {"field": "f", "type": "quantitative", "scale": {"domain": [0,16000], "nice": false}, "axis": {"orient": "bottom", "values": [0,5000,10000,15000], "format": "d", "title": "Fréquence (Hz)"}},
                "y": {"field": "v", "type": "quantitative", "scale": {"domain": [-15,10], "nice": false, "zero": false}, "axis": {"orient": "left", "values": [10,5,0,-5,-10,-15], "labelExpr": "toString(datum.value)", "title": null}}}},
  {"transform": [{"filter": "datum.k == 'Q=5'"}], "mark": {"type": "line", "clip": true, "strokeJoin": "round", "strokeCap": "round", "strokeWidth": 7},
   "encoding": {"x": {"field": "f", "type": "quantitative", "scale": {"domain": [0,16000], "nice": false}, "axis": {"orient": "top", "values": [0,5000,10000,15000], "labels": false, "title": "20 × log₁₀ (|σᵣᵣ(r_A,0,0)/A₀|) [dB]", "titleFont": "Liberation Serif", "titleFontSize": 28, "titleFontWeight": "normal", "titleColor": "#111111", "titlePadding": 30, "titleX": 249, "titleAlign": "center"}},
                "y": {"field": "v", "type": "quantitative", "scale": {"domain": [-15,10], "nice": false, "zero": false}, "axis": {"orient": "right", "values": [10,5,0,-5,-10,-15], "labels": false, "title": null}}}},
  {"transform": [{"filter": "datum.k == 'Q=8'"}], "mark": {"type": "line", "clip": true, "strokeWidth": 3},
   "encoding": {"x": {"field": "f", "type": "quantitative", "scale": {"domain": [0,16000], "nice": false}, "axis": null},
                "y": {"field": "v", "type": "quantitative", "scale": {"domain": [-15,10], "nice": false, "zero": false}, "axis": null}}},
  {"transform": [{"filter": "datum.k == 'Q=10'"}], "mark": {"type": "line", "clip": true, "strokeWidth": 1.3},
   "encoding": {"x": {"field": "f", "type": "quantitative", "scale": {"domain": [0,16000], "nice": false}, "axis": null},
                "y": {"field": "v", "type": "quantitative", "scale": {"domain": [-15,10], "nice": false, "zero": false}, "axis": null}}}
 ],
 "resolve": {"axis": {"x": "independent", "y": "independent"}}
}
], "spacing": 34,
 "resolve": {"scale": {"color": "independent"}, "legend": {"color": "independent"}}}
],
"spacing": 86,
"resolve": {"scale": {"color": "independent"}, "legend": {"color": "independent"}},
"config": {
 "background": "white",
 "view": {"stroke": "#262626", "strokeWidth": 1},
 "axis": {"grid": false, "tickSize": -7, "tickColor": "#262626", "domainColor": "#262626", "labelFont": "Liberation Sans", "labelFontSize": 30, "labelFontWeight": "bold", "labelColor": "#333333", "labelFlush": false, "labelOverlap": false, "labelPadding": 14, "titleFont": "Liberation Sans", "titleFontSize": 33, "titleFontWeight": "bold", "titleColor": "#333333", "titlePadding": 4},
 "legend": {"orient": "bottom-right", "offset": 7, "padding": 5, "strokeColor": "#262626", "fillColor": "#ffffff", "labelFont": "Liberation Sans", "labelFontSize": 26, "labelFontWeight": "bold", "labelColor": "#1a1a1a", "symbolType": "square", "symbolSize": 250, "symbolOffset": 0, "rowPadding": 3, "labelOffset": 4, "cornerRadius": 0}
}
}
